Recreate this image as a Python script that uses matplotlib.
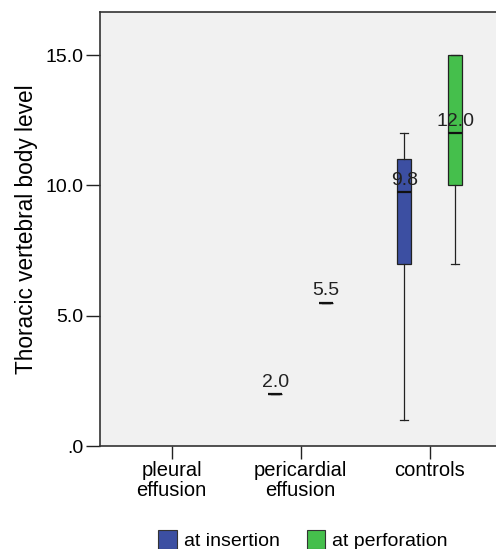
import matplotlib
matplotlib.use('Agg')
import matplotlib.pyplot as plt
from matplotlib.patches import Patch

plt.rcParams['font.family'] = ['Liberation Sans', 'DejaVu Sans']

groups = ['pleural\neffusion', 'pericardial\neffusion', 'controls']
series = ['at insertion', 'at perforation']
colors = ['#3c4fa2', '#45bf4c']

# box stats per group: (whislo, q1, med, q3, whishi) or None when no data
insertion = [None, (2.0, 2.0, 2.0, 2.0, 2.0), (1.0, 7.0, 9.75, 11.0, 12.0)]
perforation = [None, (5.5, 5.5, 5.5, 5.5, 5.5), (7.0, 10.0, 12.0, 15.0, 15.0)]
median_labels = [[None, '2.0', '9.8'], [None, '5.5', '12.0']]

yticks = [0, 5, 10, 15]
ytick_labels = ['.0', '5.0', '10.0', '15.0']

fig = plt.figure(figsize=(4.96, 5.49), dpi=100)
ax = fig.add_axes([0.2016, 0.1876, 0.7984, 0.7905])
ax.set_facecolor('#f1f1f1')

offset = 0.198
width = 0.11
for s, (data, col) in enumerate(zip([insertion, perforation], colors)):
    for i, st in enumerate(data):
        if st is None:
            continue
        pos = i + (offset if s == 1 else -offset)
        stats = [dict(whislo=st[0], q1=st[1], med=st[2], q3=st[3], whishi=st[4], fliers=[])]
        ax.bxp(stats, positions=[pos], widths=width, patch_artist=True, showfliers=False,
               boxprops=dict(facecolor=col, edgecolor='#222222', linewidth=0.9),
               medianprops=dict(color='#111111', linewidth=1.6),
               whiskerprops=dict(color='#222222', linewidth=0.9),
               capprops=dict(color='#222222', linewidth=0.9),
               capwidths=0.065, manage_ticks=False)
        ax.annotate(median_labels[s][i], (pos, st[2]), xytext=(0, 8.5), textcoords='offset points',
                    ha='center', va='center', fontsize=14, color='#222222')

ax.set_xlim(-0.556, 2.514)
ax.set_ylim(0, 16.65)
ax.set_xticks(range(len(groups)))
ax.set_xticklabels(groups, fontsize=14.5, linespacing=1.02)
ax.set_yticks(yticks)
ax.set_yticklabels(ytick_labels, fontsize=14)
ax.tick_params(axis='y', length=10, width=1, color='#222222', pad=2)
ax.tick_params(axis='x', length=9, width=1, color='#222222', pad=2)
ax.set_ylabel('Thoracic vertebral body level', fontsize=16.3, labelpad=5)
for sp in ['left', 'bottom', 'top']:
    ax.spines[sp].set_color('#333333')
    ax.spines[sp].set_linewidth(1.2)
ax.spines['right'].set_visible(False)

handles = [Patch(facecolor=c, edgecolor='#333333', linewidth=0.8) for c in colors]
fig.legend(handles, series, loc='center', bbox_to_anchor=(0.611, 0.016), ncol=2, frameon=False,
           fontsize=14, handlelength=0.95, handleheight=1.1, handletextpad=0.35, columnspacing=1.4)

fig.savefig('out.png', dpi=100)
